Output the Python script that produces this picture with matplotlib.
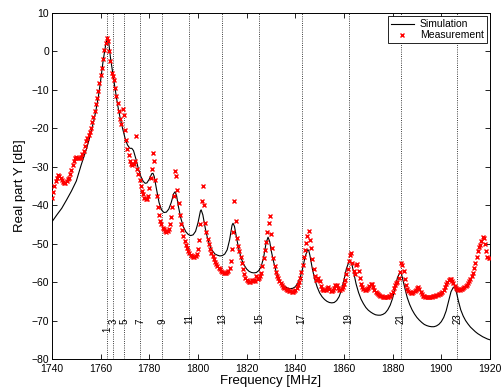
import numpy as np
import matplotlib
matplotlib.use("Agg")
import matplotlib.pyplot as plt

plt.rcParams['font.family'] = ['Liberation Sans', 'DejaVu Sans']

# measurement, sampled every 0.5 MHz from 1740 to 1920
meas_f = np.arange(1740, 1920.25, 0.5)
meas_db = [
    -38.2, -36.5, -35.0, -33.8, -32.8, -32.2, -32.3, -32.8, -33.4, -33.9,
    -34.1, -34.1, -33.8, -33.3, -32.8, -32.0, -30.8, -29.5, -28.4, -27.6,
    -27.4, -27.6, -27.8, -27.8, -27.4, -26.8, -25.8, -24.5, -23.3, -22.4,
    -21.8, -21.0, -19.8, -18.3, -17.0, -15.4, -13.8, -12.2, -10.3, -8.2,
    -6.2, -4.2, -1.9, 0.3, 2.2, 3.4, 2.6, 0.2, -2.5, -5.5,
    -6.5, -7.5, -9.5, -11.5, -13.5, -15.5, -17.5, -18.8, -15.0, -16.5,
    -20.4, -23.0, -25.5, -27.0, -28.5, -29.3, -29.5, -29.3, -28.5, -22.0,
    -30.5, -32.0, -33.5, -35.0, -36.2, -37.2, -38.0, -38.5, -38.5, -37.5,
    -35.5, -33.0, -30.5, -26.5, -28.5, -33.5, -37.5, -40.5, -42.5, -44.0,
    -45.0, -45.8, -46.3, -46.7, -46.9, -46.8, -46.3, -45.0, -43.0, -40.5,
    -37.5, -31.0, -32.5, -36.0, -39.5, -42.5, -44.8, -46.5, -48.0, -49.3,
    -50.3, -51.2, -51.9, -52.5, -52.9, -53.2, -53.4, -53.4, -53.2, -52.7,
    -51.5, -49.0, -45.0, -39.0, -35.0, -40.0, -44.5, -47.0, -48.8, -50.2,
    -51.3, -52.3, -53.2, -54.0, -54.7, -55.3, -55.8, -56.3, -56.7, -57.0,
    -57.3, -57.5, -57.6, -57.6, -57.4, -57.0, -56.2, -54.5, -51.5, -47.0,
    -39.0, -44.0, -48.5, -50.5, -52.0, -53.5, -55.0, -56.5, -58.0, -59.0,
    -59.5, -59.8, -59.9, -59.9, -59.5, -59.8, -59.4, -59.8, -58.5, -59.2,
    -59.0, -58.5, -57.5, -55.8, -53.8, -51.7, -49.5, -47.0, -44.5, -42.7,
    -47.5, -51.0, -53.8, -55.8, -57.3, -58.3, -59.0, -59.8, -60.3, -60.8,
    -61.2, -61.5, -61.8, -62.0, -62.1, -62.3, -62.4, -62.5, -62.5, -62.4,
    -62.1, -61.6, -60.8, -60.0, -59.0, -57.3, -55.5, -53.5, -51.7, -49.8,
    -48.0, -46.8, -49.0, -51.0, -54.0, -56.5, -58.3, -59.5, -59.5, -59.0,
    -59.8, -61.0, -61.7, -62.0, -62.1, -62.0, -61.6, -61.3, -61.8, -62.2,
    -62.2, -62.0, -61.5, -60.8, -60.8, -61.5, -62.0, -62.1, -61.8, -61.2,
    -60.5, -59.5, -58.0, -56.5, -54.5, -53.0, -52.5, -55.0, -57.0, -57.8,
    -55.5, -55.3, -57.0, -59.0, -60.5, -61.3, -61.7, -62.0, -62.0, -61.8,
    -61.5, -61.0, -60.4, -60.5, -61.3, -62.0, -62.5, -62.8, -63.1, -63.3,
    -63.5, -63.7, -63.8, -63.9, -63.9, -63.9, -63.8, -63.7, -63.5, -63.2,
    -62.5, -61.5, -60.8, -60.3, -60.0, -59.0, -57.3, -55.0, -55.5, -57.0,
    -59.3, -60.8, -61.8, -62.3, -62.6, -62.8, -62.8, -62.7, -62.4, -62.0,
    -61.5, -61.3, -61.9, -62.7, -63.2, -63.5, -63.7, -63.8, -63.9, -63.9,
    -63.9, -63.9, -63.8, -63.7, -63.6, -63.5, -63.4, -63.3, -63.2, -63.0,
    -62.8, -62.5, -62.0, -61.3, -60.6, -60.0, -59.5, -59.3, -59.3, -59.6,
    -60.3, -61.0, -61.5, -61.8, -62.0, -62.0, -61.9, -61.7, -61.5, -61.3,
    -61.0, -60.7, -60.3, -59.8, -59.2, -58.4, -57.5, -56.3, -55.0, -53.5,
    -51.8, -50.8, -50.3, -49.2, -48.2, -48.5, -50.0, -52.0, -53.5, -53.8,
    -53.8,
]

# simulation curve
sim_f = [1740, 1742, 1744, 1746, 1748, 1750, 1752, 1754, 1755, 1756, 1757, 1758,
         1759, 1760, 1761, 1762, 1762.7, 1763.3, 1764, 1765, 1766, 1767, 1768,
         1769, 1770, 1771, 1772, 1772.8, 1773.5, 1774.5, 1775.5, 1776.5, 1777.5,
         1778.3, 1779, 1780, 1781, 1781.5, 1782, 1783, 1784, 1785, 1786, 1787,
         1788, 1789, 1790, 1790.6, 1791.2, 1792, 1793, 1794, 1795, 1796, 1797,
         1798, 1799, 1800, 1801, 1801.3, 1802, 1803, 1804, 1805, 1806, 1807,
         1808, 1809, 1810, 1811, 1812, 1813, 1814, 1814.4, 1815, 1816, 1817,
         1818, 1819, 1820, 1821, 1822, 1823, 1824, 1825, 1826, 1827, 1828,
         1828.8, 1829.5, 1830, 1831, 1832, 1833, 1834, 1835, 1836, 1837, 1838,
         1839, 1840, 1841, 1842, 1843, 1844, 1845, 1845.5, 1846, 1847, 1848,
         1849, 1850, 1851, 1852, 1853, 1854, 1855, 1856, 1857, 1858, 1859,
         1860, 1861, 1862, 1862.6, 1863.3, 1864, 1865, 1866, 1867, 1868, 1869,
         1870, 1871, 1872, 1873, 1874, 1875, 1876, 1877, 1878, 1879, 1880,
         1881, 1882, 1883, 1883.5, 1884, 1885, 1886, 1887, 1888, 1889, 1890,
         1891, 1892, 1893, 1894, 1895, 1896, 1897, 1898, 1899, 1900, 1901,
         1902, 1903, 1904, 1905, 1905.6, 1906.3, 1907, 1908, 1909, 1910, 1911,
         1912, 1913, 1914, 1915, 1916, 1917, 1918, 1919, 1920]
sim_db = [-44.3, -42.5, -40.8, -38.6, -36.3, -33.7, -29.5, -25.7, -23.5, -21.0, -18.5, -15.5,
          -12.0, -7.5, -2.5, 1.5, 3.4, 2.5, -1.5, -5.8, -10.0, -14.0, -17.3,
          -20.0, -22.5, -24.3, -25.2, -25.2, -25.8, -28.0, -30.5, -32.5, -33.8,
          -34.3, -34.2, -33.2, -31.8, -31.7, -32.5, -36.0, -39.3, -41.2, -41.9, -41.8,
          -41.0, -39.3, -37.0, -36.5, -37.5, -40.5, -43.5, -45.6, -46.9, -47.6, -47.9,
          -47.7, -46.8, -44.6, -41.5, -41.2, -42.5, -46.0, -48.8, -50.7, -51.9, -52.7,
          -53.0, -53.2, -53.1, -52.7, -51.6, -49.0, -45.2, -44.7, -45.5, -49.0, -52.0,
          -54.2, -55.6, -56.6, -57.2, -57.5, -57.6, -57.5, -57.0, -55.9, -53.5, -49.8,
          -48.3, -49.5, -51.5, -54.5, -57.0, -58.8, -60.0, -60.8, -61.3, -61.6, -61.7,
          -61.6, -61.2, -60.3, -58.8, -56.5, -53.5, -51.6, -51.7, -53.0, -56.5, -59.3,
          -61.3, -62.8, -63.8, -64.5, -65.0, -65.3, -65.4, -65.3, -64.8, -63.8, -62.0,
          -59.5, -56.5, -54.8, -54.6, -55.5, -57.5, -60.5, -62.7, -64.4, -65.6, -66.6,
          -67.3, -67.8, -68.2, -68.5, -68.6, -68.6, -68.4, -68.0, -67.2, -66.0, -64.2,
          -61.5, -58.8, -57.5, -57.6, -58.8, -61.5, -64.0, -65.8, -67.2, -68.3, -69.2,
          -69.9, -70.5, -71.0, -71.3, -71.5, -71.6, -71.6, -71.4, -71.0, -70.3, -69.2,
          -67.5, -65.0, -62.5, -61.3, -61.5, -62.8, -64.8, -67.2, -68.8, -70.0, -70.9,
          -71.7, -72.3, -72.9, -73.4, -73.8, -74.2, -74.5, -74.8, -75.0]

# resonance markers
mode_f = [1762.7, 1765.2, 1769.7, 1776.3, 1785.3, 1796.4, 1809.9, 1825.2,
          1842.6, 1861.9, 1883.3, 1906.6]
mode_lbl = ["1", "3", "5", "7", "9", "11", "13", "15", "17", "19", "21", "23"]
mode_y = [-73, -71, -71, -71, -71, -71, -71, -71, -71, -71, -71, -71]

fig = plt.figure(figsize=(5.03, 3.89), dpi=100)
ax = fig.add_axes([0.1034, 0.0771, 0.8706, 0.8895])

for f in mode_f:
    ax.axvline(f, color="k", ls=":", lw=0.6, zorder=1)
for f, t, y in zip(mode_f, mode_lbl, mode_y):
    ax.text(f, y, t, rotation=90, ha="center", va="bottom", fontsize=7, zorder=2)

ax.plot(sim_f, sim_db, color="k", lw=0.8, label="Simulation", zorder=3)
ax.plot(meas_f, meas_db, ls="none", marker="x", color="red", ms=3.5, mew=1.0,
        label="Measurement", zorder=4)

ax.set_xlim(1740, 1920)
ax.set_ylim(-80, 10)
ax.set_xticks(np.arange(1740, 1921, 20))
ax.set_yticks(np.arange(-80, 11, 10))
ax.tick_params(direction="in", top=True, right=True, length=3.5, width=0.6,
               labelsize=7.5)
ax.tick_params(axis="x", pad=3.5)
ax.tick_params(axis="y", pad=2)
for s in ax.spines.values():
    s.set_linewidth(0.7)
ax.set_xlabel("Frequency [MHz]", fontsize=9.5, labelpad=1)
ax.set_ylabel("Real part Y [dB]", fontsize=9.5, labelpad=4)

leg = ax.legend(loc="upper right", fontsize=7.5, frameon=True, fancybox=False,
                edgecolor="k", framealpha=1, borderpad=0.3, labelspacing=0.1,
                handlelength=2.2, handletextpad=0.6, borderaxespad=0.3,
                numpoints=1)
leg.get_frame().set_linewidth(0.6)

fig.savefig("out.png", dpi=100)
